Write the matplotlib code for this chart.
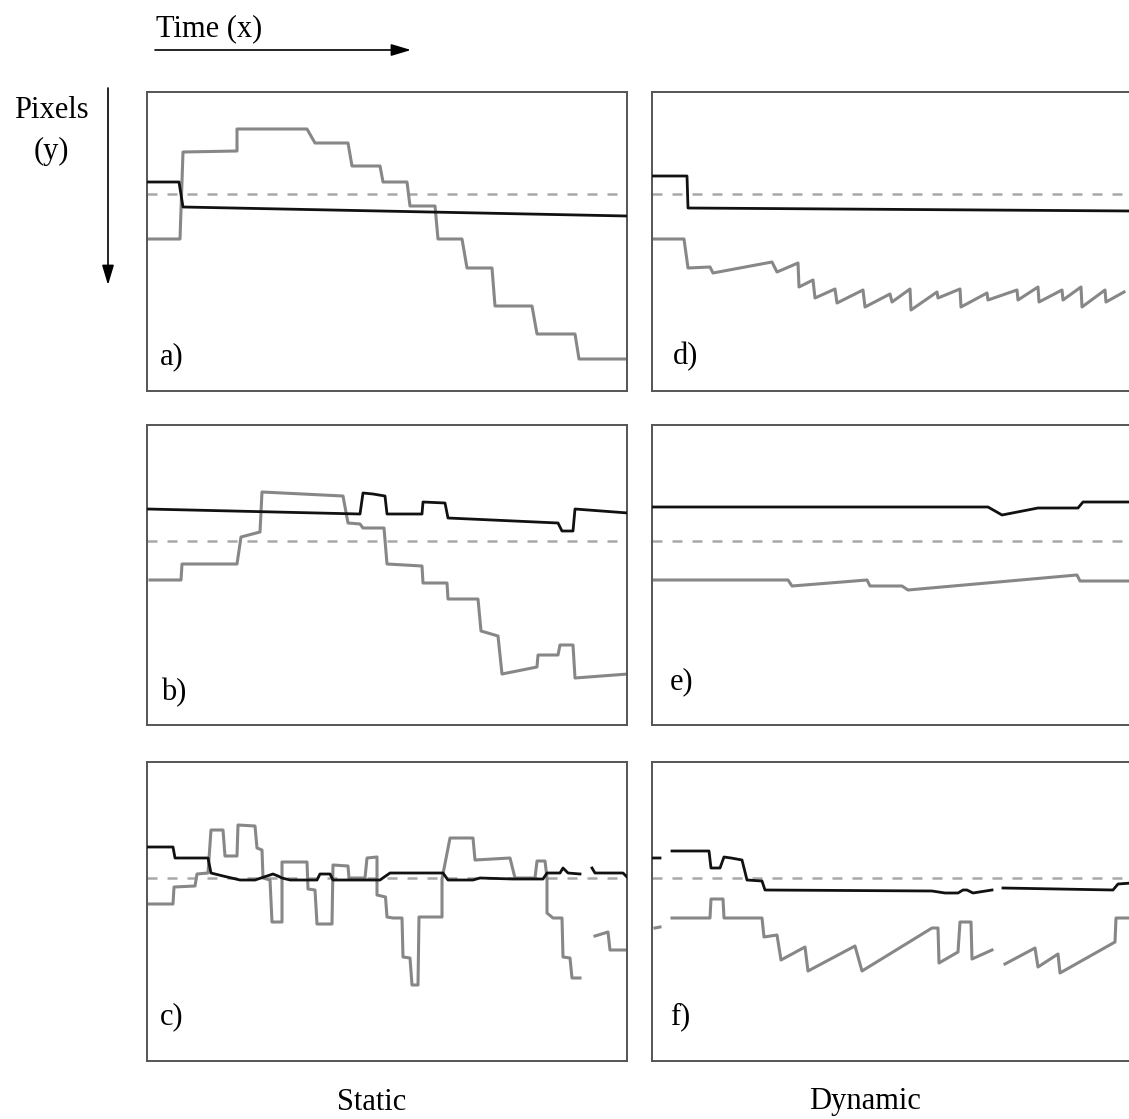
import numpy as np
import matplotlib
matplotlib.use("Agg")
import matplotlib.pyplot as plt

plt.rcParams['font.family'] = ['Liberation Serif', 'DejaVu Serif']

nan = np.nan

# traces in panel pixel units (x = time, y = pixel row, growing downwards)
a_black_x = [0, 32, 36, 480]
a_black_y = [90, 90, 115, 124]
a_gray_x = [1, 33, 36, 90, 90, 160, 168, 201, 205, 233, 236, 260, 263, 288, 291, 315,
            320, 345, 348, 385, 390, 428, 432, 480]
a_gray_y = [147, 147, 60, 59, 37, 37, 51, 51, 74, 74, 90, 90, 114, 114, 147, 147,
            176, 176, 214, 214, 242, 242, 267, 267]
a_ref = 102

b_black_x = [0, 213, 216, 226, 238, 240, 275, 276, 298, 301, 411, 415, 426, 428, 481]
b_black_y = [84, 89, 68, 69, 71, 89, 89, 77, 78, 93, 98, 106, 106, 84, 88]
b_gray_x = [3, 34, 35, 90, 94, 113, 115, 196, 201, 213, 216, 237, 240, 275, 276, 300,
            301, 331, 334, 351, 355, 390, 391, 411, 413, 426, 428, 481]
b_gray_y = [155, 155, 139, 139, 112, 107, 67, 71, 98, 99, 103, 103, 139, 141, 158, 158,
            174, 174, 206, 211, 249, 242, 230, 230, 220, 220, 253, 249]
b_ref = 116

c_black_x = [1, 26, 28, 61, 64, 76, 93, 108, 126, 131, 135, 143, 170, 173, 183, 186,
             233, 243, 296, 301, 326, 333, 366, 396, 400, 413, 416, 421, 433, nan,
             445, 448, 476, 481]
c_black_y = [85, 85, 96, 96, 111, 114, 118, 118, 112, 114, 116, 118, 118, 112, 112, 118,
             118, 111, 111, 118, 118, 116, 117, 117, 111, 111, 106, 111, 112, nan,
             106, 111, 111, 116]
c_gray_x = [1, 26, 27, 48, 50, 61, 64, 76, 78, 90, 91, 108, 110, 115, 116, 123, 125, 135,
            135, 160, 161, 168, 170, 185, 186, 201, 202, 218, 220, 230, 230, 238.5, 240,
            246, 255, 256, 263, 265, 271, 272, 295, 295, 303, 326, 328, 363, 368, 388, 390,
            398, 400, 400, 406, 415, 416, 423, 425, 433, nan, 448, 461, 463, 481]
c_gray_y = [142, 142, 125, 124, 112, 111, 68, 68, 94, 94, 63, 64, 86, 88, 116, 118, 160, 160,
            100, 100, 127, 128, 162, 162, 103, 104, 116, 116, 96, 95, 133, 135, 155,
            156, 156, 195, 196, 223, 223, 155, 155, 117, 76, 76, 98, 96, 116, 116, 99,
            99, 116, 151, 156, 156, 195, 196, 216, 216, nan, 174, 170, 188, 188]
c_ref = 116

d_black_x = [0, 35, 36, 480]
d_black_y = [84, 84, 116, 119]
d_gray_x = [1, 32, 36, 58, 61, 120, 125, 146, 147, 161, 163, 183, 185, 211, 213, 238, 240,
            258, 259, 285, 286, 308, 309, 335, 336, 365, 366, 386, 387, 410, 411, 429, 430,
            453, 454, 472]
d_gray_y = [147, 147, 176, 175, 181, 170, 180, 171, 195, 188, 206, 197, 211, 198, 215, 202,
            210, 197, 218, 200, 206, 197, 215, 201, 208, 198, 208, 195, 210, 198, 208, 195,
            215, 198, 210, 200]
d_ref = 102

e_black_x = [0, 336, 350, 386, 426, 431, 480]
e_black_y = [82, 82, 90, 83, 83, 77, 77]
e_gray_x = [0, 136, 140, 215, 218, 250, 256, 425, 428, 480]
e_gray_y = [155, 155, 161, 155, 161, 161, 165, 150, 156, 156]
e_ref = 116

f_black_x = [1, 8, nan, 20, 57, 59, 68, 72, 79, 90, 95, 110, 113, 280, 293, 306, 311, 315,
             321, 340, nan, 351, 461, 466, 480]
f_black_y = [96, 96, nan, 89, 89, 106, 106, 95, 96, 98, 118, 119, 128, 129, 131, 131, 128,
             128, 131, 128, nan, 126, 128, 122, 121]
f_gray_x = [3, 8, nan, 20, 58, 59, 71, 72, 110, 112, 125, 129, 153, 156, 203, 210, 280, 286,
            287, 306, 308, 319, 320, 340, nan, 353, 383, 386, 406, 408, 463, 464, 480]
f_gray_y = [166, 165, nan, 156, 156, 137, 137, 156, 156, 175, 173, 198, 185, 209, 184, 209,
            166, 166, 201, 190, 160, 160, 197, 188, nan, 202, 186, 205, 192, 211, 180, 156, 156]
f_ref = 116

labels = ['a)', 'b)', 'c)', 'd)', 'e)', 'f)']
panels = [
    (a_black_x, a_black_y, a_gray_x, a_gray_y, a_ref),
    (b_black_x, b_black_y, b_gray_x, b_gray_y, b_ref),
    (c_black_x, c_black_y, c_gray_x, c_gray_y, c_ref),
    (d_black_x, d_black_y, d_gray_x, d_gray_y, d_ref),
    (e_black_x, e_black_y, e_gray_x, e_gray_y, e_ref),
    (f_black_x, f_black_y, f_gray_x, f_gray_y, f_ref),
]

W, H = 1129, 1119
fig = plt.figure(figsize=(W / 100, H / 100), dpi=100)

# panel boxes in pixels: (left, top, bottom)
lefts = [147, 147, 147, 652, 652, 652]
tops = [92, 425, 762, 92, 425, 762]
bottoms = [391, 725, 1061, 391, 725, 1061]
label_pos = [(13, 265), (14, 268), (13, 255), (21, 265), (18, 257), (18, 255)]

for i, (bx, by, gx, gy, ref) in enumerate(panels):
    l, t, b = lefts[i], tops[i], bottoms[i]
    ax = fig.add_axes([l / W, 1 - b / H, 480 / W, (b - t) / H])
    ax.axhline(ref, color='#a8a8a8', lw=1.8, dashes=(4, 4), zorder=1)
    ax.plot(gx, gy, color='#878787', lw=2.2, zorder=2)
    ax.plot(bx, by, color='#111111', lw=2.0, zorder=3)
    ax.set_xlim(0, 480)
    ax.set_ylim(b - t, 0)
    ax.set_xticks([])
    ax.set_yticks([])
    for s in ax.spines.values():
        s.set_color('#555555')
        s.set_linewidth(1.4)
    ax.text(label_pos[i][0], label_pos[i][1], labels[i], fontsize=22,
            ha='left', va='center')

# overlay for the axis hints and column titles
ov = fig.add_axes([0, 0, 1, 1], zorder=-1)
ov.set_xlim(0, W)
ov.set_ylim(H, 0)
ov.axis('off')
ov.text(156, 29, 'Time (x)', fontsize=22, ha='left', va='center')
ov.annotate('', xy=(411, 50), xytext=(155, 50),
            arrowprops=dict(arrowstyle='-|>,head_length=0.6,head_width=0.18',
                            mutation_scale=20, lw=1.2, color='black', shrinkA=0, shrinkB=0))
ov.text(51, 110, 'Pixels', fontsize=22, ha='center', va='center')
ov.text(51, 151, '(y)', fontsize=22, ha='center', va='center')
ov.annotate('', xy=(108, 285), xytext=(108, 88),
            arrowprops=dict(arrowstyle='-|>,head_length=0.6,head_width=0.18',
                            mutation_scale=20, lw=1.2, color='black', shrinkA=0, shrinkB=0))
ov.text(372, 1102, 'Static', fontsize=22, ha='center', va='center')
ov.text(865, 1102, 'Dynamic', fontsize=22, ha='center', va='center')

fig.savefig('out.png', dpi=100)
